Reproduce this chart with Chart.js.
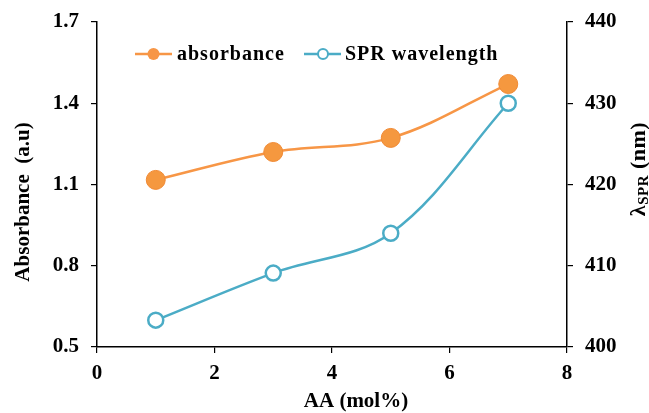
<!DOCTYPE html>
<html><head><meta charset="utf-8">
<script src="https://cdn.jsdelivr.net/npm/chart.js@4/dist/chart.umd.min.js"></script>
<style>html,body{margin:0;padding:0;background:#fff}#wrap{width:649px;height:413px}</style>
</head><body><div id="wrap"><canvas id="c" width="649" height="413"></canvas></div>
<script>
const aaMol = [1, 3, 5, 7];
const absorbance = [1.117, 1.220, 1.272, 1.471];
const sprWavelength = [403.3, 409.1, 414.0, 430.0];
const xTicks = [0, 2, 4, 6, 8];
const leftTicks = [0.5, 0.8, 1.1, 1.4, 1.7];
const rightTicks = [400, 410, 420, 430, 440];
const seriesNames = ['absorbance', 'SPR wavelength'];

const ORANGE = '#F79646', BLUE = '#4BACC6';
const FONT = '"Liberation Serif", "Times New Roman", serif';

const overlay = {
  id: 'overlay',
  afterDraw(chart) {
    const ctx = chart.ctx;
    ctx.save();
    ctx.fillStyle = '#000';
    ctx.textBaseline = 'middle';
    // legend
    const ly = 54;
    ctx.lineWidth = 2.5;
    ctx.strokeStyle = ORANGE;
    ctx.beginPath(); ctx.moveTo(135, ly); ctx.lineTo(172, ly); ctx.stroke();
    ctx.fillStyle = ORANGE;
    ctx.beginPath(); ctx.arc(153.5, ly, 6, 0, Math.PI * 2); ctx.fill();
    ctx.strokeStyle = BLUE;
    ctx.beginPath(); ctx.moveTo(304, ly); ctx.lineTo(341, ly); ctx.stroke();
    ctx.fillStyle = '#fff'; ctx.lineWidth = 2;
    ctx.beginPath(); ctx.arc(323, ly, 5, 0, Math.PI * 2); ctx.fill(); ctx.stroke();
    ctx.fillStyle = '#000';
    ctx.font = 'bold 20px ' + FONT;
    ctx.letterSpacing = '1px';
    ctx.textAlign = 'left';
    ctx.fillText(seriesNames[0], 177, ly + 1);
    ctx.fillText(seriesNames[1], 345, ly + 1);
    ctx.letterSpacing = '0px';
    // x title
    ctx.textAlign = 'center';
    ctx.font = 'bold 21px ' + FONT;
    ctx.fillText('AA (mol%)', 356, 402);
    // left title
    ctx.save();
    ctx.translate(24, 202);
    ctx.rotate(-Math.PI / 2);
    ctx.fillText('Absorbance  (a.u)', 0, 0);
    ctx.restore();
    // right title: λ_SPR (nm), reads bottom to top
    ctx.save();
    ctx.translate(639, 169);
    ctx.rotate(-Math.PI / 2);
    ctx.textAlign = 'left';
    ctx.letterSpacing = '0.5px';
    const big = 'bold 22px ' + FONT, small = 'bold 15px ' + FONT;
    ctx.font = big; const w1 = ctx.measureText('λ').width;
    ctx.font = small; const w2 = ctx.measureText('SPR').width;
    ctx.font = big; const w3 = ctx.measureText(' (nm)').width;
    let x0 = -(w1 + w2 + w3) / 2;
    ctx.font = big; ctx.fillText('λ', x0, 0); x0 += w1;
    ctx.font = small; ctx.fillText('SPR', x0, 5); x0 += w2;
    ctx.font = big; ctx.fillText(' (nm)', x0, 0);
    ctx.restore();
    ctx.restore();
  }
};

new Chart(document.getElementById('c'), {
  type: 'line',
  data: {
    datasets: [
      {
        label: seriesNames[0],
        data: aaMol.map((x, i) => ({ x, y: absorbance[i] })),
        yAxisID: 'y',
        borderColor: ORANGE, backgroundColor: ORANGE,
        borderWidth: 2.5, pointRadius: 9.5, pointBorderWidth: 1,
        pointBorderColor: '#F08A35', pointBackgroundColor: '#F5983F',
        tension: 0.35
      },
      {
        label: seriesNames[1],
        data: aaMol.map((x, i) => ({ x, y: sprWavelength[i] })),
        yAxisID: 'y2',
        borderColor: BLUE, backgroundColor: '#fff',
        borderWidth: 2.5, pointRadius: 7.5, pointBorderWidth: 2.5,
        pointBorderColor: BLUE, pointBackgroundColor: '#fff',
        tension: 0.35
      }
    ]
  },
  options: {
    responsive: false, animation: false,
    layout: { padding: { top: 22, left: 0, right: 0, bottom: 0 } },
    plugins: { legend: { display: false }, tooltip: { enabled: false } },
    scales: {
      x: {
        type: 'linear', min: 0, max: 8,
        afterBuildTicks: s => { s.ticks = xTicks.map(v => ({ value: v })); },
        afterFit: s => { s.height = 66; s.paddingLeft = 0; s.paddingRight = 0; },
        grid: { drawOnChartArea: false, drawTicks: true, tickLength: 6, color: '#000', lineWidth: 1.2 },
        border: { color: '#000', width: 1.5 },
        ticks: { color: '#000', font: { family: FONT, size: 21, weight: 'bold' }, padding: 8 }
      },
      y: {
        position: 'left', min: 0.5, max: 1.7,
        afterBuildTicks: s => { s.ticks = leftTicks.map(v => ({ value: v })); },
        afterFit: s => { s.width = 97; s.paddingTop = 0; s.paddingBottom = 0; },
        grid: { drawOnChartArea: false, drawTicks: true, tickLength: 6, color: '#000', lineWidth: 1.2 },
        border: { color: '#000', width: 1.5 },
        ticks: { color: '#000', font: { family: FONT, size: 21, weight: 'bold' }, padding: 12,
          callback: v => v.toFixed(1) }
      },
      y2: {
        position: 'right', min: 400, max: 440,
        afterBuildTicks: s => { s.ticks = rightTicks.map(v => ({ value: v })); },
        afterFit: s => { s.width = 82; s.paddingTop = 0; s.paddingBottom = 0; },
        grid: { drawOnChartArea: false, drawTicks: true, tickLength: 6, color: '#000', lineWidth: 1.2 },
        border: { color: '#000', width: 1.5 },
        ticks: { color: '#000', font: { family: FONT, size: 21, weight: 'bold' }, padding: 12 }
      }
    }
  },
  plugins: [overlay]
});
</script></body></html>
